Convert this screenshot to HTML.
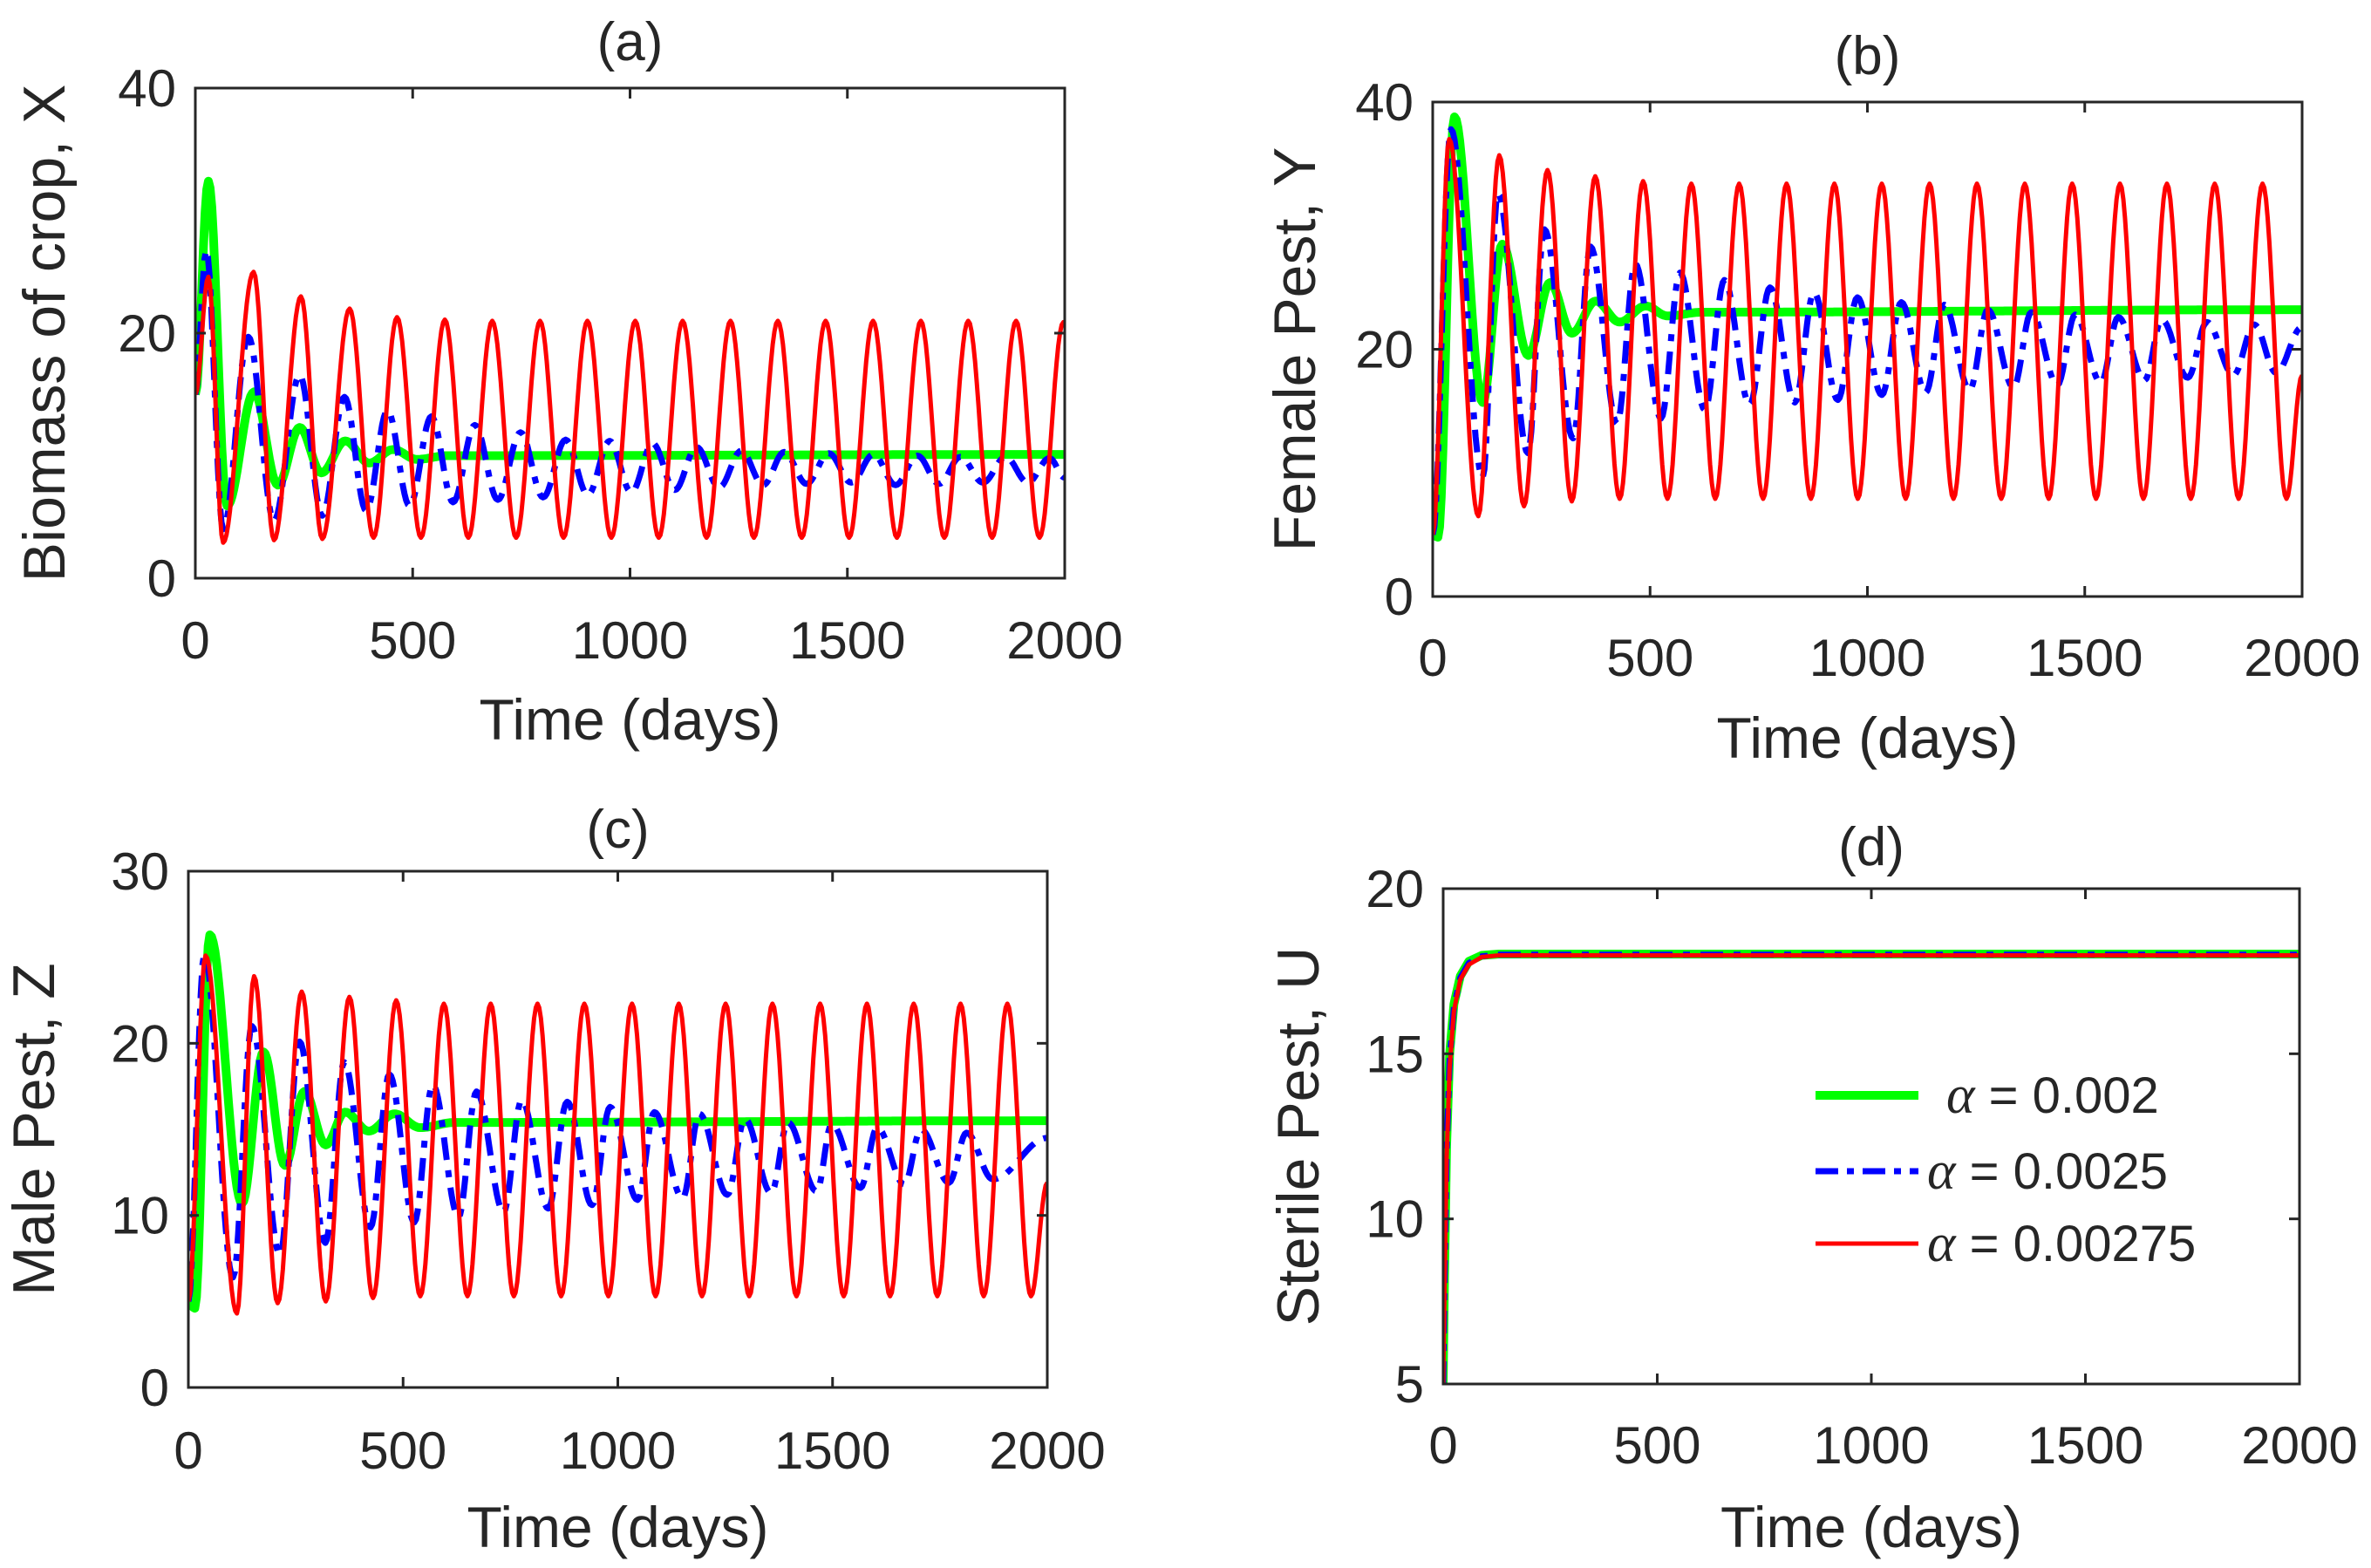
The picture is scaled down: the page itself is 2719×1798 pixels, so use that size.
<!DOCTYPE html>
<html><head><meta charset="utf-8"><style>
html,body{margin:0;padding:0;background:#fff;}
svg{display:block;}
text{font-family:"Liberation Sans",sans-serif;fill:#262626;}
</style></head><body>
<svg id="fig" width="2719" height="1798" viewBox="0 0 2719 1798" xmlns="http://www.w3.org/2000/svg"></svg>
<script>
// ---- Panel (a) data: Biomass of crop X ----
const aGreenT = [0,30,73,135,190,240,290,345,400,455,510,580,2000];
const aGreenV = [15,32.4,5.9,15.2,7.6,12.3,8.6,11.2,9.4,10.5,9.7,10.0,10.1];
const aBlueT = [0,25,64,122,181,240,292,343,393,442,493,543,593,643,696,748,800,852,903,953,1003,1052,1103,1153,1205,1256,1306,1355,1406,1457,1509,1560,1611,1661,1711,1760,1812,1864,1915,1965,2000];
const aBlueV = [15,26.8,4.0,19.7,4.7,16.6,5.1,14.8,5.5,13.7,5.9,13.2,6.2,12.5,6.4,11.9,6.6,11.3,6.8,11.2,7.0,11.0,7.2,10.7,7.4,10.4,7.6,10.3,7.7,10.2,7.8,10.1,7.6,10.0,7.7,9.9,7.8,9.9,7.8,9.8,8.2];
const aRedT = [0,30,64,134,181,243,292,355,410,464,519,574,628,683,738,793,847,902,957,1012,1066,1121,1176,1231,1285,1340,1395,1450,1504,1559,1614,1669,1723,1778,1833,1888,1942,1997,2000];
const aRedV = [15,24.6,2.9,25,3.1,23,3.2,22,3.3,21.3,3.3,21.1,3.3,21,3.3,21,3.3,21,3.3,21,3.3,21,3.3,21,3.3,21,3.3,21,3.3,21,3.3,21,3.3,21,3.3,21,3.3,20.9,20.8];
const aYTicks = [0,20,40];
// ---- Panel (b) data: Female pest Y ----
const bGreenT = [0,12,50,115,160,220,270,320,375,430,490,540,620,2000];
const bGreenV = [5,4.8,38.8,15.7,28.5,19.5,25.4,21.3,23.9,22.2,23.5,22.7,23.0,23.2];
const bBlueT = [0,42,115,150,219,257,323,363,424,466,525,569,626,671,729,776,833,877,932,977,1033,1078,1134,1177,1235,1277,1336,1377,1437,1478,1537,1577,1638,1677,1737,1781,1842,1890,1940,2000];
const bBlueV = [5,37.8,9.6,32.6,11.6,29.7,12.8,28.3,14.0,26.9,14.4,26.2,15.1,25.6,15.5,25.0,15.7,24.6,15.9,24.2,16.3,23.8,16.5,23.6,16.7,23.2,16.9,23.0,17.1,22.8,17.3,22.6,17.5,22.4,17.7,22.2,17.9,22.0,18.1,21.8];
const bRedT = [0,38,105,153,210,264,320,374,430,484,540,595,650,705,760,814,870,924,978,1033,1088,1143,1198,1252,1308,1362,1417,1471,1526,1581,1635,1689,1744,1799,1854,1909,1964,2000];
const bRedV = [5,37,6.5,35.7,7.3,34.5,7.7,34,7.9,33.6,7.9,33.4,7.9,33.4,7.9,33.4,7.9,33.4,7.9,33.4,7.9,33.4,7.9,33.4,7.9,33.4,7.9,33.4,7.9,33.4,7.9,33.4,7.9,33.4,7.9,33.4,7.9,17.9];
const bYTicks = [0,20,40];
// ---- Panel (c) data: Male pest Z ----
const cGreenT = [0,15,50,125,175,225,270,320,365,420,480,540,620,2000];
const cGreenV = [5,4.6,26.3,10.7,19.5,12.9,17.2,14.1,16.0,14.9,15.9,15.1,15.4,15.5];
const cBlueT = [0,37,104,148,213,259,319,363,424,468,526,569,629,671,734,776,838,882,940,982,1046,1085,1151,1190,1255,1296,1357,1396,1463,1498,1565,1604,1667,1706,1771,1812,1873,2000];
const cBlueV = [5,25.2,6.4,21.0,7.7,20.1,8.4,18.9,9.3,18.2,9.6,17.6,9.9,17.2,10.2,16.7,10.4,16.6,10.6,16.3,10.9,16.0,11.0,15.9,11.2,15.6,11.3,15.4,11.4,15.3,11.6,15.1,11.8,15.0,11.9,14.8,12.1,14.5];
const cRedT = [0,40,113,153,208,264,320,375,430,484,540,595,650,704,758,813,868,922,978,1033,1088,1142,1196,1251,1306,1360,1416,1471,1526,1580,1634,1689,1744,1798,1852,1907,1962,2000];
const cRedV = [5,25.1,4.3,23.9,4.9,23.0,5.0,22.7,5.2,22.5,5.3,22.3,5.3,22.3,5.3,22.3,5.3,22.3,5.3,22.3,5.3,22.3,5.3,22.3,5.3,22.3,5.3,22.3,5.3,22.3,5.3,22.3,5.3,22.3,5.3,22.3,5.3,11.9];
const cYTicks = [0,10,20,30];
// ---- Panel (d) data: Sterile pest U ----
const dGreenT = [0,3,8,15,25,40,60,90,130,2000];
const dGreenV = [5,8.2,12.2,15.0,16.5,17.35,17.8,17.98,18.02,18.02];
const dBlueT = [0,3,8,15,25,40,60,90,130,2000];
const dBlueV = [5,8,12,14.8,16.4,17.3,17.75,17.95,18,18];
const dRedT = [0,3,8,15,25,40,60,90,130,2000];
const dRedV = [5,7.8,11.8,14.6,16.3,17.25,17.7,17.93,17.98,17.98];
const dYTicks = [5,10,15,20];
const xTicks = [0,500,1000,1500,2000];
const legendLabels = ["0.002","0.0025","0.00275"];

const NS = "http://www.w3.org/2000/svg";
const svg = document.getElementById('fig');
function mk(tag, attrs, parent){
  const e = document.createElementNS(NS, tag);
  for (const k in attrs) e.setAttribute(k, attrs[k]);
  (parent||svg).appendChild(e);
  return e;
}
const panels = [
  {id:'a', L:224, R:1221, T:101, B:663, ymin:0, ymax:40, yt:aYTicks, title:'(a)', titleY:69, tickY:755, xlabY:848, ylab:'Biomass of crop, X', ylabX:50,
   series:[[aGreenT,aGreenV],[aBlueT,aBlueV],[aRedT,aRedV]]},
  {id:'b', L:1643, R:2640, T:117, B:684, ymin:0, ymax:40, yt:bYTicks, title:'(b)', titleY:85, tickY:775, xlabY:869, ylab:'Female Pest, Y', ylabX:1484,
   series:[[bGreenT,bGreenV],[bBlueT,bBlueV],[bRedT,bRedV]]},
  {id:'c', L:216, R:1201, T:999, B:1591, ymin:0, ymax:30, yt:cYTicks, title:'(c)', titleY:972, tickY:1684, xlabY:1774, ylab:'Male Pest, Z', ylabX:38,
   series:[[cGreenT,cGreenV],[cBlueT,cBlueV],[cRedT,cRedV]]},
  {id:'d', L:1655, R:2637, T:1019, B:1587, ymin:5, ymax:20, yt:dYTicks, title:'(d)', titleY:992, tickY:1678, xlabY:1774, ylab:'Sterile Pest, U', ylabX:1488, lin:true,
   series:[[dGreenT,dGreenV],[dBlueT,dBlueV],[dRedT,dRedV]]}
];
const styles = [
  {c:'#00ff00', w:10, d:null},
  {c:'#0000ff', w:7, d:'26 12 8 12'},
  {c:'#ff0000', w:5, d:null}
];
const names = ['green-series-alpha-0.002','blue-series-alpha-0.0025','red-series-alpha-0.00275'];

panels.forEach(p => {
  const g = mk('g', {});
  
  
  const xs = t => p.L + (t/2000)*(p.R-p.L);
  const ys = v => p.B - (v-p.ymin)/(p.ymax-p.ymin)*(p.B-p.T);
  const clip = mk('clipPath', {id:'clip'+p.id}, g);
  mk('rect', {x:p.L, y:p.T, width:p.R-p.L, height:p.B-p.T}, clip);
  mk('rect', {x:p.L, y:p.T, width:p.R-p.L, height:p.B-p.T, fill:'#fff'}, g);
  p.series.forEach((s, i) => {
    const T = s[0], V = s[1];
    let d = 'M' + xs(T[0]).toFixed(1) + ',' + ys(V[0]).toFixed(1);
    for (let k = 1; k < T.length; k++) {
      if (p.lin) { d += 'L' + xs(T[k]).toFixed(1) + ',' + ys(V[k]).toFixed(1); continue; }
      const n = Math.max(4, Math.round((T[k]-T[k-1])/4));
      for (let j = 1; j <= n; j++) {
        const f = j/n, sm = (1 - Math.cos(Math.PI*f))/2;
        const t = T[k-1] + (T[k]-T[k-1])*f;
        const v = V[k-1] + (V[k]-V[k-1])*sm;
        d += 'L' + xs(t).toFixed(1) + ',' + ys(v).toFixed(1);
      }
    }
    const st = styles[i];
    const path = mk('path', {d:d, fill:'none', stroke:st.c, 'stroke-width':st.w, 'stroke-linejoin':'round', 'clip-path':'url(#clip'+p.id+')'}, g);
    if (st.d) path.setAttribute('stroke-dasharray', st.d);
    
    
  });
  const box = mk('rect', {x:p.L, y:p.T, width:p.R-p.L, height:p.B-p.T, fill:'none', stroke:'#262626', 'stroke-width':3}, g);
  
  
  const tl = 12;
  xTicks.forEach(t => {
    const x = xs(t);
    mk('line', {x1:x, y1:p.B, x2:x, y2:p.B-tl, stroke:'#262626', 'stroke-width':3}, g);
    mk('line', {x1:x, y1:p.T, x2:x, y2:p.T+tl, stroke:'#262626', 'stroke-width':3}, g);
    const tx = mk('text', {x:x, y:p.tickY, 'font-size':60, 'text-anchor':'middle'}, g);
    tx.textContent = t;
    
    
  });
  p.yt.forEach(v => {
    const y = ys(v);
    mk('line', {x1:p.L, y1:y, x2:p.L+tl, y2:y, stroke:'#262626', 'stroke-width':3}, g);
    mk('line', {x1:p.R, y1:y, x2:p.R-tl, y2:y, stroke:'#262626', 'stroke-width':3}, g);
    const ty = mk('text', {x:p.L-22, y:y+21, 'font-size':60, 'text-anchor':'end'}, g);
    ty.textContent = v;
    
    
  });
  const ti = mk('text', {x:(p.L+p.R)/2, y:p.titleY, 'font-size':62, 'text-anchor':'middle'}, g);
  ti.textContent = p.title;
  
  
  const xl = mk('text', {x:(p.L+p.R)/2, y:p.xlabY, 'font-size':66, 'text-anchor':'middle'}, g);
  xl.textContent = 'Time (days)';
  
  
  const cy = (p.T+p.B)/2;
  const yl = mk('text', {x:p.ylabX, y:cy, 'font-size':68, 'text-anchor':'middle', transform:'rotate(-90 '+p.ylabX+' '+cy+')', dy:'0.35em'}, g);
  yl.textContent = p.ylab;
  
  
});

const lg = mk('g', {});


const rowsY = [1256, 1343, 1426];
const textX = [2232, 2210, 2210];
legendLabels.forEach((lab, i) => {
  const st = styles[i];
  const ln = mk('line', {x1:2082, y1:rowsY[i], x2:2200, y2:rowsY[i], stroke:st.c, 'stroke-width':st.w}, lg);
  if (st.d) ln.setAttribute('stroke-dasharray', '26 10 8 10');
  
  
  const t = mk('text', {x:textX[i], y:rowsY[i]+20, 'font-size':58}, lg);
  
  
  const a = document.createElementNS(NS, 'tspan');
  a.setAttribute('font-family', '"Liberation Serif", serif');
  a.setAttribute('font-style', 'italic');
  a.setAttribute('font-size', '62');
  a.textContent = 'α';
  t.appendChild(a);
  t.appendChild(document.createTextNode(' = ' + lab));
});
</script>
</body></html>
